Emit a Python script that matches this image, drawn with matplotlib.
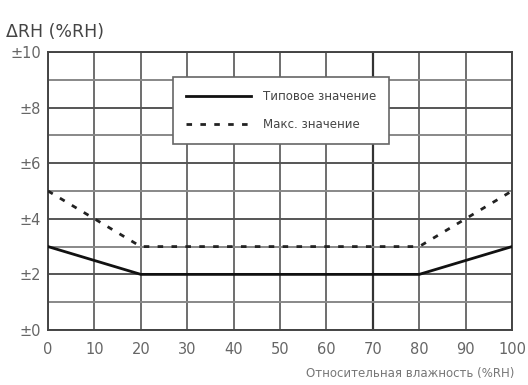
import matplotlib.pyplot as plt
import numpy as np

rh = [0, 20, 80, 100]
typical = [3, 2, 2, 3]
maximum = [5, 3, 3, 5]
x_ticks = [0, 10, 20, 30, 40, 50, 60, 70, 80, 90, 100]
y_ticks = [0, 2, 4, 6, 8, 10]
y_labels = ["±0", "±2", "±4", "±6", "±8", "±10"]

fig = plt.figure(figsize=(5.28, 3.85), dpi=100)
ax = fig.add_axes([0.0909, 0.1429, 0.8788, 0.7221])

# grid
for v in range(0, 101, 10):
    ax.axvline(v, color="#333333" if v == 70 else "#555555", lw=1.6 if v == 70 else 1.2, zorder=1)
for v in range(0, 11):
    ax.axhline(v, color="#555555" if v % 2 == 0 else "#888888", lw=1.4, zorder=1)

ax.plot(rh, typical, color="#111111", lw=2, label="Типовое значение", zorder=3)
ax.plot(rh, maximum, color="#222222", lw=2, ls=(0, (2, 3)), label="Макс. значение", zorder=3)

ax.set_xlim(0, 100)
ax.set_ylim(0, 10)
ax.set_xticks(x_ticks)
ax.set_yticks(y_ticks)
ax.set_yticklabels(y_labels)
ax.tick_params(length=0, labelsize=10.5, colors="#666666")
ax.tick_params(axis="x", pad=9)
ax.tick_params(axis="y", pad=5)
for s in ax.spines.values():
    s.set_color("#444444")
    s.set_linewidth(1.4)

leg = ax.legend(loc="upper left", bbox_to_anchor=(0.269, 0.91), fontsize=8.5,
                frameon=True, fancybox=False, edgecolor="#666666", framealpha=1,
                handlelength=5.5, handletextpad=1.0, borderpad=1.1, labelspacing=1.3,
                borderaxespad=0)
leg.get_frame().set_linewidth(1.2)
for t in leg.get_texts():
    t.set_color("#444444")

fig.text(0.012, 0.905, "ΔRH (%RH)", fontsize=12.5, color="#444444")
fig.text(0.975, 0.02, "Относительная влажность (%RH)", fontsize=8.5, color="#777777", ha="right")

fig.savefig("out.png", dpi=100)
